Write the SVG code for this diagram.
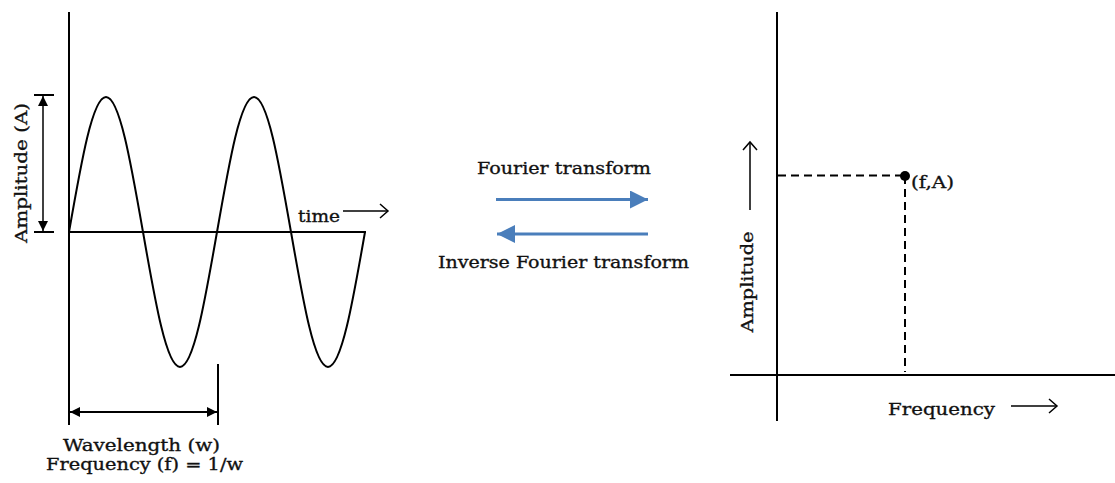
<svg xmlns="http://www.w3.org/2000/svg" width="1115" height="483" viewBox="0 0 1115 483">
<style>
.ax{stroke:#000;stroke-width:2;fill:none}
.thin{stroke:#000;stroke-width:1.5;fill:none}
.dash{stroke:#000;stroke-width:2;fill:none;stroke-dasharray:8 5}
.blue{stroke:#4a7ebb;stroke-width:3;fill:none}
.t{font-family:"DejaVu Serif","Liberation Serif",serif;font-size:17.5px;fill:#111;stroke:#111;stroke-width:0.35}
</style>
<defs>
<marker id="fh" viewBox="0 0 10 10" refX="10" refY="5" markerWidth="10" markerHeight="10" markerUnits="userSpaceOnUse" orient="auto-start-reverse">
<path d="M0,0 L10,5 L0,10 z" fill="#000"/>
</marker>
<marker id="bh" viewBox="0 0 18 18" refX="18" refY="9" markerWidth="18" markerHeight="18" markerUnits="userSpaceOnUse" orient="auto">
<path d="M0,0 L18,9 L0,18 z" fill="#4a7ebb"/>
</marker>
</defs>
<rect width="1115" height="483" fill="#fff"/>

<g id="time-domain">
<line class="ax" x1="69" y1="12" x2="69" y2="425"/>
<line class="ax" x1="69" y1="232" x2="366" y2="232"/>
<path class="ax" d="M69,232 C81.37,161.1 92.57,97 106,97 C119.43,97 130.63,161.1 143,232 C155.37,302.9 166.57,367 180,367 C193.43,367 204.63,302.9 217,232 C229.37,161.1 240.57,97 254,97 C267.43,97 278.63,161.1 291,232 C303.37,302.9 314.57,367 328,367 C341.43,367 352.63,302.9 365,232"/>
</g>

<g id="amplitude-marker">
<line class="ax" x1="34" y1="95" x2="54" y2="95"/>
<line class="ax" x1="34" y1="232" x2="54" y2="232"/>
<line class="thin" x1="43" y1="96" x2="43" y2="231" marker-start="url(#fh)" marker-end="url(#fh)"/>
<text class="t" transform="translate(27,173) rotate(-90)" text-anchor="middle" textLength="140" lengthAdjust="spacingAndGlyphs">Amplitude (A)</text>
</g>

<g id="time-label">
<text class="t" x="298" y="222" textLength="42" lengthAdjust="spacingAndGlyphs">time</text>
<line class="thin" x1="343" y1="211" x2="388" y2="211"/>
<polyline class="thin" points="380,204 388,211 380,218"/>
</g>

<g id="wavelength-marker">
<line class="ax" x1="218" y1="364" x2="218" y2="425"/>
<line class="ax" x1="70" y1="412" x2="217" y2="412" marker-start="url(#fh)" marker-end="url(#fh)"/>
<text class="t" x="63" y="451" textLength="157" lengthAdjust="spacingAndGlyphs">Wavelength (w)</text>
<text class="t" x="46" y="470" textLength="197" lengthAdjust="spacingAndGlyphs">Frequency (f) = 1/w</text>
</g>

<g id="connectors">
<line class="blue" x1="496" y1="199.5" x2="648" y2="199.5" marker-end="url(#bh)"/>
<line class="blue" x1="648" y1="234" x2="497" y2="234" marker-end="url(#bh)"/>
</g>

<g id="fourier-label">
<text class="t" x="477" y="174" textLength="174" lengthAdjust="spacingAndGlyphs">Fourier transform</text>
</g>
<g id="inverse-label">
<text class="t" x="438" y="268" textLength="251" lengthAdjust="spacingAndGlyphs">Inverse Fourier transform</text>
</g>

<g id="frequency-domain">
<line class="ax" x1="777" y1="12" x2="777" y2="421"/>
<line class="ax" x1="730" y1="375" x2="1115" y2="375"/>
<line class="dash" x1="778" y1="175.5" x2="905" y2="175.5"/>
<line class="dash" x1="905" y1="176" x2="905" y2="372"/>
<circle cx="905" cy="176" r="5" fill="#000"/>
<text class="t" x="911" y="188" textLength="43" lengthAdjust="spacingAndGlyphs">(f,A)</text>
</g>

<g id="freq-amplitude-label">
<text class="t" transform="translate(753,282) rotate(-90)" text-anchor="middle" textLength="101" lengthAdjust="spacingAndGlyphs">Amplitude</text>
<line class="thin" x1="750" y1="210" x2="750" y2="142"/>
<polyline class="thin" points="743,150 750,142 757,150"/>
</g>

<g id="freq-label">
<text class="t" x="888" y="415" textLength="107" lengthAdjust="spacingAndGlyphs">Frequency</text>
<line class="thin" x1="1011" y1="406" x2="1057" y2="406"/>
<polyline class="thin" points="1049,399 1057,406 1049,413"/>
</g>
</svg>
